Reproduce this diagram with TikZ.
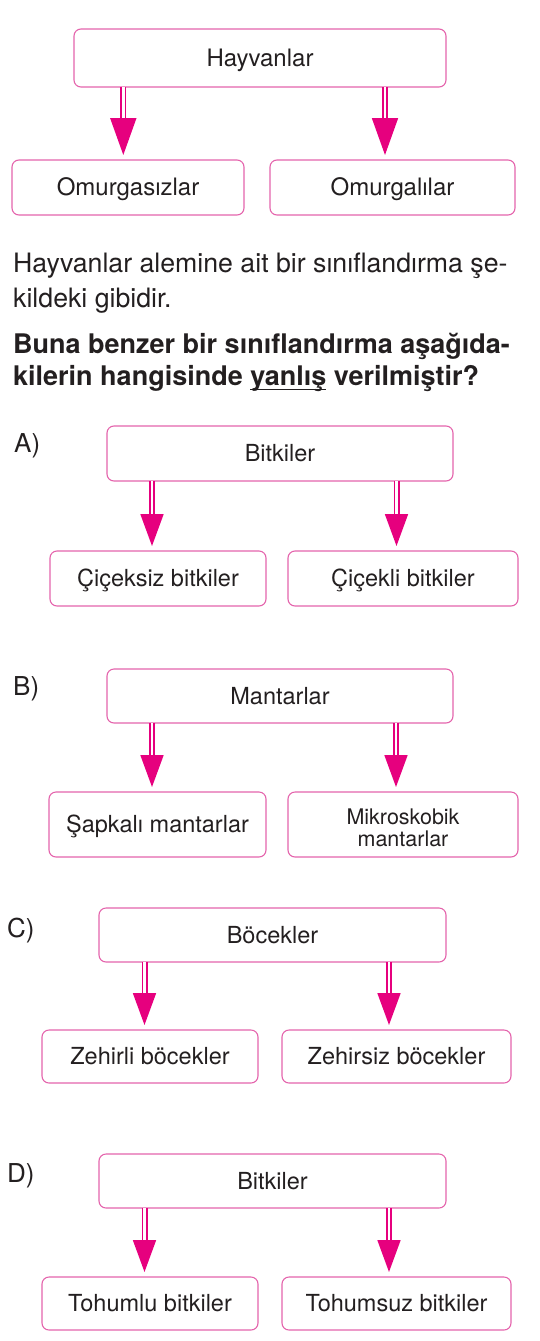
\documentclass[tikz,border=0pt]{standalone}
\usepackage{fontspec}
\setmainfont{TeX Gyre Heros}
\usepackage{tikz}
\usetikzlibrary{arrows.meta}
\definecolor{oku}{RGB}{230,0,126}
\definecolor{kenar}{RGB}{228,100,172}
\definecolor{yazi}{RGB}{35,31,32}
\newcommand{\boy}[1]{\fontsize{#1}{#1}\selectfont}
\newcommand{\altciz}[1]{\setbox0\hbox{#1}\rlap{\rule[-5pt]{\wd0}{1.4pt}}#1}

\begin{document}
\begin{tikzpicture}[x=1pt, y=-1pt,
    cerceve/.style={draw=kenar, line width=1.1pt, rounded corners=7pt,
      text=yazi, inner sep=0pt, outer sep=0pt, font=\boy{23.5}},
    kutu/.style={cerceve, text height=16.5pt, text depth=0pt},
    ok/.style={draw=oku, double=white, double distance=2.4pt, line width=1.8pt,
      shorten >=5pt, -{Triangle[length=32pt,width=23pt]}},
    harf/.style={anchor=base west, text=yazi, font=\boy{26}},
    satir/.style={anchor=base west, inner sep=0pt, text=yazi, font=\boy{26.7}}]
    \useasboundingbox (0,0) rectangle (540,1341);

    % örnek sınıflandırma
    \node[kutu, minimum width=372, minimum height=58, font=\boy{24}] (hay) at (260,58) {Hayvanlar};
    \node[kutu, minimum width=232, minimum height=55, font=\boy{24}] (omz) at (128,187.5) {Omurgasızlar};
    \node[kutu, minimum width=245, minimum height=55, font=\boy{24}] (oml) at (392.5,187.5) {Omurgalılar};
    \draw[ok, -{Triangle[length=37pt,width=26pt]}] ([xshift=-136.7]hay.south) -- ([xshift=-136.7]hay.south |- omz.north);
    \draw[ok, -{Triangle[length=37pt,width=26pt]}] ([xshift=125]hay.south) -- ([xshift=125]hay.south |- oml.north);

    % soru metni
    \node[satir] (s1) at (13,272) {Hayvanlar alemine ait bir sınıflandırma şe-};
    \node[satir] (s2) at (13,307) {kildeki gibidir.};
    \node[satir, font=\boy{27}\bfseries] (s3) at (13,353) {Buna benzer bir sınıflandırma aşağıda-};
    \node[satir, font=\boy{27}\bfseries] (s4) at (13,385) {kilerin hangisinde \altciz{yanlış} verilmiştir?};

    % A şıkkı
    \node[harf, inner sep=0pt] (ha) at (14,452) {A)};
    \node[kutu, minimum width=346, minimum height=55] (a0) at (280,453.5) {Bitkiler};
    \node[kutu, minimum width=216, minimum height=55] (a1) at (158,578.5) {Çiçeksiz bitkiler};
    \node[kutu, minimum width=230, minimum height=55] (a2) at (403,578.5) {Çiçekli bitkiler};
    \draw[ok] ([xshift=-128]a0.south) -- ([xshift=-128]a0.south |- a1.north);
    \draw[ok] ([xshift=116.5]a0.south) -- ([xshift=116.5]a0.south |- a2.north);

    % B şıkkı
    \node[harf, inner sep=0pt] (hb) at (13,695) {B)};
    \node[kutu, minimum width=346, minimum height=54] (b0) at (280,696) {Mantarlar};
    \node[kutu, minimum width=217, minimum height=65] (b1) at (157.5,824.5) {Şapkalı mantarlar};
    \node[cerceve, minimum width=230, minimum height=65, align=center, text height=44pt,
      font=\fontsize{21.5}{22}\selectfont] (b2) at (403,824.5) {Mikroskobik\\mantarlar};
    \draw[ok] ([xshift=-128]b0.south) -- ([xshift=-128]b0.south |- b1.north);
    \draw[ok] ([xshift=116]b0.south) -- ([xshift=116]b0.south |- b2.north);

    % C şıkkı
    \node[harf, inner sep=0pt] (hc) at (7,937) {C)};
    \node[kutu, minimum width=347, minimum height=54] (c0) at (272.5,935) {Böcekler};
    \node[kutu, minimum width=216, minimum height=53] (c1) at (150,1056.5) {Zehirli böcekler};
    \node[kutu, minimum width=229, minimum height=53] (c2) at (396.5,1056.5) {Zehirsiz böcekler};
    \draw[ok] ([xshift=-128]c0.south) -- ([xshift=-128]c0.south |- c1.north);
    \draw[ok] ([xshift=116.5]c0.south) -- ([xshift=116.5]c0.south |- c2.north);

    % D şıkkı
    \node[harf, inner sep=0pt] (hd) at (7,1182) {D)};
    \node[kutu, minimum width=347, minimum height=54] (d0) at (272.5,1181) {Bitkiler};
    \node[kutu, minimum width=216, minimum height=53] (d1) at (150,1303.5) {Tohumlu bitkiler};
    \node[kutu, minimum width=229, minimum height=53] (d2) at (396.5,1303.5) {Tohumsuz bitkiler};
    \draw[ok] ([xshift=-128]d0.south) -- ([xshift=-128]d0.south |- d1.north);
    \draw[ok] ([xshift=116.5]d0.south) -- ([xshift=116.5]d0.south |- d2.north);
\end{tikzpicture}
\end{document}
